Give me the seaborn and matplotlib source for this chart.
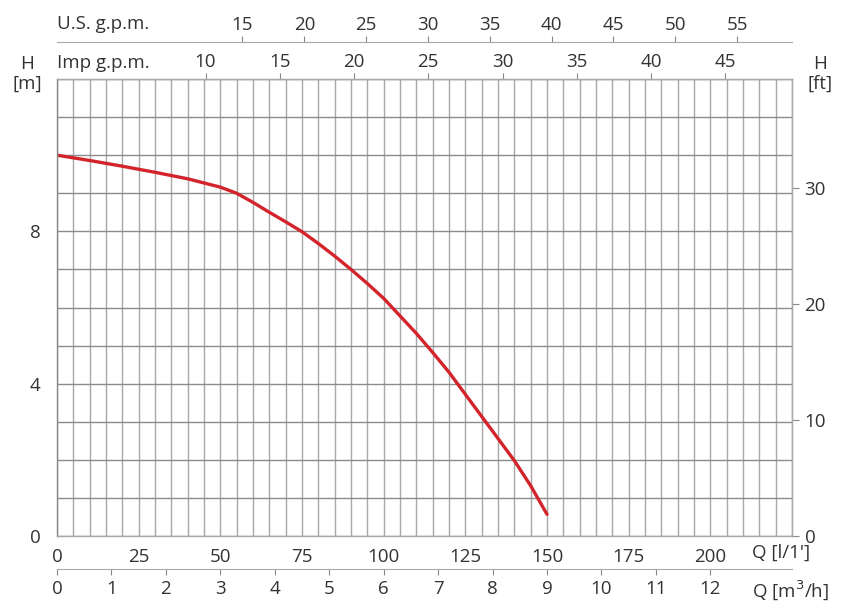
import matplotlib
matplotlib.use("Agg")
import matplotlib.pyplot as plt
import numpy as np
import seaborn as sns

# pump curve: flow in l/min, head in m
q_lpm = [0, 10, 20, 30, 40, 50, 55, 60, 65, 70, 75, 80, 85, 90, 95, 100,
         105, 110, 115, 120, 125, 130, 135, 140, 145, 150]
h_m = [10.0, 9.86, 9.71, 9.55, 9.38, 9.16, 9.0, 8.76, 8.5, 8.25, 7.99, 7.68, 7.35, 7.0, 6.63, 6.24,
       5.78, 5.32, 4.82, 4.3, 3.72, 3.14, 2.56, 1.98, 1.32, 0.57]

lpm_ticks = [0, 25, 50, 75, 100, 125, 150, 175, 200]
m3h_ticks = list(range(0, 13))
us_ticks = [15, 20, 25, 30, 35, 40, 45, 50, 55]
imp_ticks = [10, 15, 20, 25, 30, 35, 40, 45]
hm_ticks = [0, 4, 8]
hft_ticks = [0, 10, 20, 30]

W, H = 848, 605
TXT = "#333333"
VGRID = "#a8a8a8"
HGRID = "#8c8c8c"
RED = "#d3242c"

sns.set_style("white")
plt.rcParams["font.family"] = ["Open Sans", "DejaVu Sans"]
plt.rcParams["font.size"] = 13.5

fig = plt.figure(figsize=(W / 100, H / 100), dpi=100)
ax = fig.add_axes([57 / W, 1 - 536 / H, (792 - 57) / W, (536 - 79) / H])

sns.lineplot(x=q_lpm, y=h_m, color=RED, lw=2.4, ax=ax, sort=False)

ax.set_xlim(0, 225)
ax.set_ylim(0, 12)
ax.set_xticks(lpm_ticks)
ax.set_xticks(np.arange(0, 226, 5), minor=True)
ax.set_yticks(hm_ticks)
ax.set_yticks(np.arange(0, 13, 1), minor=True)
ax.grid(which="both", axis="x", color=VGRID, lw=1)
ax.grid(which="both", axis="y", color=HGRID, lw=1)
ax.set_axisbelow(True)
ax.tick_params(which="minor", length=0)
ax.tick_params(which="major", direction="out", length=5, width=1, color="#888888",
               labelcolor=TXT)
ax.tick_params(axis="x", pad=4)
ax.tick_params(axis="y", pad=7)
for s in ax.spines.values():
    s.set_color(VGRID)
    s.set_linewidth(1)
ax.spines["left"].set_color("#888888")

# right axis in feet
lf = lambda m: m / 0.3048
fl = lambda f: f * 0.3048
ay = ax.secondary_yaxis("right", functions=(lf, fl))
ay.set_yticks(hft_ticks)
ay.tick_params(direction="out", length=5, color="#888888", labelcolor=TXT, pad=4)
ay.spines["right"].set_color(VGRID)

# top: Imp g.p.m.
imp = ax.secondary_xaxis("top", functions=(lambda q: q / 4.54609, lambda g: g * 4.54609))
imp.set_xticks(imp_ticks)
imp.tick_params(direction="out", length=4, color="#888888", labelcolor=TXT, pad=2)
imp.spines["top"].set_color(VGRID)

# top: U.S. g.p.m.
us = ax.secondary_xaxis(1 + (79 - 42) / 457, functions=(lambda q: q / 3.78541, lambda g: g * 3.78541))
us.set_xticks(us_ticks)
us.tick_params(direction="out", length=4, color="#888888", labelcolor=TXT, pad=2)
us.spines["top"].set_color(VGRID)

# bottom: m3/h
m3 = ax.secondary_xaxis(-(569 - 536) / 457, functions=(lambda q: q * 0.06, lambda m: m / 0.06))
m3.set_xticks(m3h_ticks)
m3.tick_params(direction="out", length=4, color="#888888", labelcolor=TXT, pad=4)
m3.spines["bottom"].set_color(VGRID)

def ftext(x, y, s, **kw):
    fig.text(x / W, 1 - y / H, s, color=TXT, fontsize=13.5, **kw)

ftext(57, 24, "U.S. g.p.m.", ha="left", va="center")
ftext(57, 63, "Imp g.p.m.", ha="left", va="center")
ftext(27, 64, "H", ha="center", va="center")
ftext(27, 84, "[m]", ha="center", va="center")
ftext(820, 64, "H", ha="center", va="center")
ftext(820, 84, "[ft]", ha="center", va="center")
ftext(752, 553, "Q [l/1']", ha="left", va="center")
ftext(752, 590, "Q [m$^3$/h]", ha="left", va="center")

fig.savefig("out.png", dpi=100, facecolor="white")
